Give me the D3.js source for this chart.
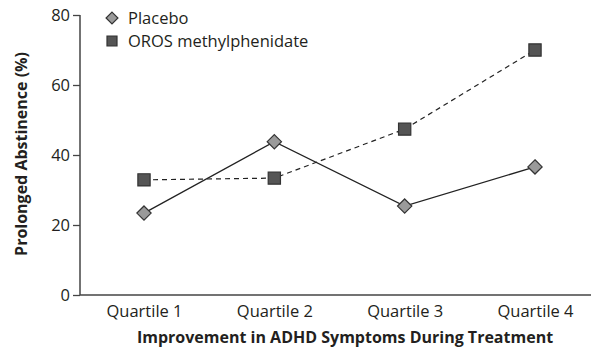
<!DOCTYPE html>
<html><head><meta charset="utf-8">
<script src="https://cdn.jsdelivr.net/npm/d3@7"></script>
<style>body{margin:0;background:#fff}text{font-family:"Open Sans",Lato,sans-serif;fill:#231f20}</style>
</head><body><svg id="c" width="591" height="352"></svg>
<script>
const categories = ["Quartile 1","Quartile 2","Quartile 3","Quartile 4"];
const placebo = [23.4, 43.8, 25.4, 36.6];
const oros = [32.9, 33.4, 47.4, 70.0];
const yTicks = [0,20,40,60,80];
const seriesNames = ["Placebo","OROS methylphenidate"];

const svg = d3.select("#c");
const x = d3.scalePoint().domain(categories).range([144,535]);
const y = d3.scaleLinear().domain([0,80]).range([295,15]);
const ax = 80;

// y axis
const yAxis = svg.append("g").attr("transform",`translate(${ax},0)`)
  .call(d3.axisLeft(y).tickValues(yTicks).tickSize(7).tickPadding(3));
yAxis.select(".domain").remove();
yAxis.selectAll("line").attr("stroke","#444").attr("stroke-width",1.3);
yAxis.selectAll("text").style("font-size","16.5px");
svg.append("line").attr("x1",ax).attr("x2",ax).attr("y1",y(80)).attr("y2",y(0)).attr("stroke","#444").attr("stroke-width",1.5);
// x axis
svg.append("line").attr("x1",ax).attr("x2",591).attr("y1",y(0)).attr("y2",y(0)).attr("stroke","#444").attr("stroke-width",1.5);
const xAxis = svg.append("g").attr("transform",`translate(0,${y(0)})`)
  .call(d3.axisBottom(x).tickSize(0).tickPadding(10));
xAxis.select(".domain").remove();
xAxis.selectAll("text").style("font-size","16.5px");

svg.append("text").attr("x",345).attr("y",343).attr("text-anchor","middle")
  .style("font-size","16px").style("font-weight","bold").text("Improvement in ADHD Symptoms During Treatment");
svg.append("text").attr("transform","translate(27,154) rotate(-90)").attr("text-anchor","middle")
  .style("font-size","16px").style("font-weight","bold").text("Prolonged Abstinence (%)");

const line = d3.line().x((d,i)=>x(categories[i])).y(d=>y(d));
svg.append("path").attr("d",line(oros)).attr("fill","none").attr("stroke","#222").attr("stroke-width",1.2).attr("stroke-dasharray","5,4");
svg.append("path").attr("d",line(placebo)).attr("fill","none").attr("stroke","#222").attr("stroke-width",1.3);

const diamond = d3.symbol().type(d3.symbolDiamond2).size(130);
const square = d3.symbol().type(d3.symbolSquare).size(150);
svg.selectAll(".pd").data(placebo).join("path").attr("d",diamond)
  .attr("transform",(d,i)=>`translate(${x(categories[i])},${y(d)})`)
  .attr("fill","#9a9a9a").attr("stroke","#333").attr("stroke-width",1.2);
svg.selectAll(".os").data(oros).join("path").attr("d",square)
  .attr("transform",(d,i)=>`translate(${x(categories[i])},${y(d)})`)
  .attr("fill","#555").attr("stroke","#333").attr("stroke-width",1.2);

// legend
const lg = svg.append("g");
lg.append("path").attr("d",d3.symbol().type(d3.symbolDiamond2).size(90)).attr("transform","translate(112,18)")
  .attr("fill","#9a9a9a").attr("stroke","#333").attr("stroke-width",1.2);
lg.append("path").attr("d",d3.symbol().type(d3.symbolSquare).size(100)).attr("transform","translate(112,41)")
  .attr("fill","#555").attr("stroke","#333").attr("stroke-width",1.2);
lg.append("text").attr("x",128).attr("y",24).style("font-size","16.5px").text(seriesNames[0]);
lg.append("text").attr("x",128).attr("y",47).style("font-size","16.5px").text(seriesNames[1]);
</script></body></html>
